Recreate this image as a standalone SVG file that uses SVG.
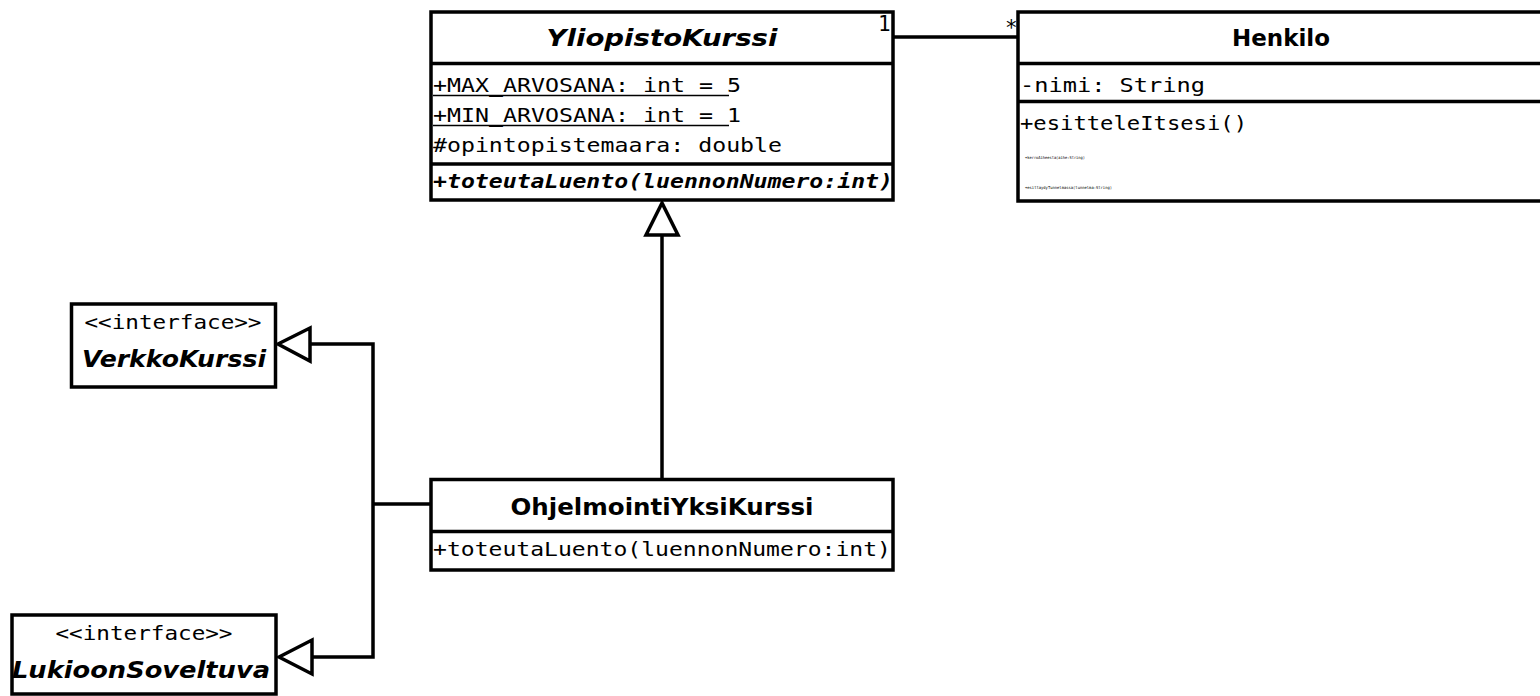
<svg xmlns="http://www.w3.org/2000/svg" width="1540" height="696" viewBox="0 0 1540 696">
  <style>
    .box { fill: #ffffff; stroke: #000000; stroke-width: 3.5; }
    .sep { stroke: #000000; stroke-width: 3.5; }
    .uline { stroke: #000000; stroke-width: 1.3; }
    .edge { fill: none; stroke: #000000; stroke-width: 3.5; }
    .head { fill: #ffffff; stroke: #000000; stroke-width: 3.5; stroke-linejoin: miter; }
    .title { font-family: "DejaVu Sans", "Liberation Sans", sans-serif; font-weight: bold; font-size: 23px; fill: #000; }
    .abstract { font-style: italic; }
    .mono { font-family: "DejaVu Sans Mono", "Liberation Mono", monospace; font-size: 19px; fill: #000; }
    .tiny { font-family: "DejaVu Sans Mono", "Liberation Mono", monospace; font-size: 4px; fill: #000; }
    .mult { font-family: "DejaVu Sans Mono", "Liberation Mono", monospace; font-size: 21px; fill: #000; }
  </style>

  <!-- YliopistoKurssi (abstract) -->
  <g id="YliopistoKurssi">
    <rect class="box" x="431" y="12" width="462" height="188"/>
    <line class="sep" x1="431" y1="63.5" x2="893" y2="63.5"/>
    <line class="sep" x1="431" y1="164" x2="893" y2="164"/>
    <text class="title abstract" x="662" y="46" text-anchor="middle" textLength="231" lengthAdjust="spacingAndGlyphs">YliopistoKurssi</text>
    <text class="mono" x="433" y="92" textLength="308" lengthAdjust="spacingAndGlyphs">+MAX_ARVOSANA: int = 5</text>
    <line class="uline" x1="433" y1="95.5" x2="729" y2="95.5"/>
    <text class="mono" x="433" y="122" textLength="308" lengthAdjust="spacingAndGlyphs">+MIN_ARVOSANA: int = 1</text>
    <line class="uline" x1="433" y1="125.5" x2="729" y2="125.5"/>
    <text class="mono" x="433" y="152" textLength="349" lengthAdjust="spacingAndGlyphs">#opintopistemaara: double</text>
    <text class="mono" x="433" y="188" font-weight="bold" font-style="italic" textLength="460" lengthAdjust="spacingAndGlyphs">+toteutaLuento(luennonNumero:int)</text>
  </g>

  <!-- Henkilo -->
  <g id="Henkilo">
    <rect class="box" x="1018" y="12" width="530" height="189"/>
    <line class="sep" x1="1018" y1="63.5" x2="1540" y2="63.5"/>
    <line class="sep" x1="1018" y1="101.5" x2="1540" y2="101.5"/>
    <text class="title" x="1281" y="46" text-anchor="middle" textLength="98" lengthAdjust="spacingAndGlyphs">Henkilo</text>
    <text class="mono" x="1020" y="92" textLength="185" lengthAdjust="spacingAndGlyphs">-nimi: String</text>
    <text class="mono" x="1020" y="130" textLength="227" lengthAdjust="spacingAndGlyphs">+esitteleItsesi()</text>
    <text class="tiny" x="1025" y="159" textLength="60" lengthAdjust="spacingAndGlyphs">+kerroAiheesta(aihe:String)</text>
    <text class="tiny" x="1025" y="189" textLength="87" lengthAdjust="spacingAndGlyphs">+esittaydyTunnelmassa(tunnelma:String)</text>
  </g>

  <!-- VerkkoKurssi interface -->
  <g id="VerkkoKurssi">
    <rect class="box" x="71.5" y="304" width="204" height="83"/>
    <text class="mono" x="173" y="329" text-anchor="middle" textLength="177" lengthAdjust="spacingAndGlyphs">&lt;&lt;interface&gt;&gt;</text>
    <text class="title abstract" x="174" y="367" text-anchor="middle" textLength="184" lengthAdjust="spacingAndGlyphs">VerkkoKurssi</text>
  </g>

  <!-- LukioonSoveltuva interface -->
  <g id="LukioonSoveltuva">
    <rect class="box" x="12" y="615" width="264" height="79"/>
    <text class="mono" x="144" y="640" text-anchor="middle" textLength="177" lengthAdjust="spacingAndGlyphs">&lt;&lt;interface&gt;&gt;</text>
    <text class="title abstract" x="141" y="678" text-anchor="middle" textLength="258" lengthAdjust="spacingAndGlyphs">LukioonSoveltuva</text>
  </g>

  <!-- OhjelmointiYksiKurssi -->
  <g id="OhjelmointiYksiKurssi">
    <rect class="box" x="431" y="479.5" width="462" height="90.5"/>
    <line class="sep" x1="431" y1="531.5" x2="893" y2="531.5"/>
    <text class="title" x="662" y="515" text-anchor="middle" font-size="25" textLength="303" lengthAdjust="spacingAndGlyphs">OhjelmointiYksiKurssi</text>
    <text class="mono" x="433" y="556" textLength="458" lengthAdjust="spacingAndGlyphs">+toteutaLuento(luennonNumero:int)</text>
  </g>

  <!-- Connectors -->
  <g id="connectors">
    <!-- association: YliopistoKurssi (1) to Henkilo (many) -->
    <line class="edge" x1="893" y1="37" x2="1018" y2="37"/>
    <text class="mult" x="878" y="31">1</text>
    <text class="mult" x="1005" y="35">*</text>
    <!-- generalization: OhjelmointiYksiKurssi extends YliopistoKurssi -->
    <line class="edge" x1="662" y1="479" x2="662" y2="235"/>
    <polygon class="head" points="662,203 646,235 678,235"/>
    <!-- realization: OhjelmointiYksiKurssi implements both interfaces -->
    <polyline class="edge" points="431,504 373,504"/>
    <polyline class="edge" points="310,344 373,344 373,657 312,657"/>
    <polygon class="head" points="278,344 310,328 310,361"/>
    <polygon class="head" points="279,657 312,640 312,674"/>
  </g>
</svg>
